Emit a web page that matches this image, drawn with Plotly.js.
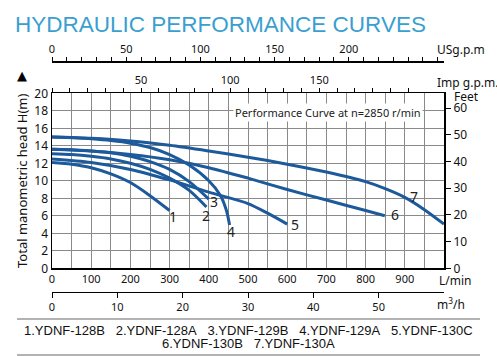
<!DOCTYPE html>
<html><head><meta charset="utf-8">
<script src="https://cdn.plot.ly/plotly-3.0.1.min.js"></script>
<style>html,body{margin:0;padding:0;background:#fff}#c{width:497px;height:356px}</style>
</head><body><div id="c"></div>
<script>
// Flow (L/min) and head (m)
const q1 = [0, 50, 100, 150, 200, 250, 300];
const h1 = [12.1, 11.9, 11.5, 10.8, 9.8, 8.3, 6.6];
const q2 = [0, 50, 100, 150, 200, 250, 300, 350, 394];
const h2 = [13.1, 13.0, 12.8, 12.5, 12.0, 11.3, 10.3, 8.9, 7.0];
const q3 = [0, 50, 100, 150, 200, 250, 300, 350, 400];
const h3 = [13.6, 13.55, 13.4, 13.2, 12.8, 12.2, 11.3, 9.9, 7.9];
const q4 = [0, 50, 100, 150, 200, 250, 300, 350, 400, 430, 445, 453];
const h4 = [15.0, 14.95, 14.8, 14.6, 14.3, 13.8, 13.0, 11.8, 10.0, 8.3, 6.6, 4.95];
const q5 = [0, 100, 200, 300, 400, 500, 550, 600];
const h5 = [12.5, 12.1, 11.3, 10.1, 8.7, 7.4, 6.3, 5.05];
const q6 = [0, 100, 200, 300, 400, 500, 600, 700, 800, 849];
const h6 = [13.6, 13.4, 13.0, 12.4, 11.5, 10.3, 9.0, 7.8, 6.6, 6.0];
const q7 = [0, 100, 200, 300, 400, 500, 600, 700, 800, 850, 900, 950, 1000];
const h7 = [15.0, 14.85, 14.55, 14.05, 13.4, 12.7, 11.9, 11.0, 9.9, 9.1, 8.1, 6.7, 5.05];
const curveNames = ['1', '2', '3', '4', '5', '6', '7'];
const models = ['1.YDNF-128B', '2.YDNF-128A', '3.YDNF-129B', '4.YDNF-129A', '5.YDNF-130C', '6.YDNF-130B', '7.YDNF-130A'];
const lpmTicks = [0, 100, 200, 300, 400, 500, 600, 700, 800, 900];
const headTicks = [0, 2, 4, 6, 8, 10, 12, 14, 16, 18, 20];
const feetTicks = [0, 10, 20, 30, 40, 50, 60];
const usgpmLabels = [0, 50, 100, 150, 200];
const impLabels = [50, 100, 150];
const m3hTicks = [0, 10, 20, 30, 40, 50];

const QMAX = 1000, HMAX = 20;
const FT = 3.28084, USG = 3.78541, IMP = 4.54609;
const blue = '#1d5a9b';
const F = 'Noto Sans, DejaVu Sans, sans-serif';

const Q = [q1, q2, q3, q4, q5, q6, q7], H = [h1, h2, h3, h4, h5, h6, h7];
const traces = Q.map((q, i) => ({
  x: q, y: H[i], type: 'scatter', mode: 'lines', name: curveNames[i],
  line: {color: blue, width: 3, shape: 'spline', smoothing: 0.8}, hoverinfo: 'skip'
}));
traces.push({x: [0], y: [0], xaxis: 'x2', yaxis: 'y2', mode: 'markers', marker: {opacity: 0}, hoverinfo: 'skip'});
traces.push({x: [0], y: [0], xaxis: 'x3', yaxis: 'y', mode: 'markers', marker: {opacity: 0}, hoverinfo: 'skip'});
traces.push({x: [0], y: [0], xaxis: 'x4', yaxis: 'y', mode: 'markers', marker: {opacity: 0}, hoverinfo: 'skip'});
traces.push({x: [0], y: [0], xaxis: 'x5', yaxis: 'y', mode: 'markers', marker: {opacity: 0}, hoverinfo: 'skip'});

const usTicks = [], usText = [];
for (let v = 0; v <= 260; v += 10) { usTicks.push(v); usText.push(usgpmLabels.includes(v) ? String(v) : ''); }
const impTicks = [], impText = [];
for (let v = 0; v <= 200; v += 10) { impTicks.push(v); impText.push(impLabels.includes(v) ? String(v) : ''); }

const pt = 40, pb = 300, ph = pb - pt;
const py = (px) => (pb - px) / ph;
const pxX = (px) => (px - 52) / 392;

const labelPos = [[308, 5.95], [392, 6.0], [412, 7.6], [456, 4.2], [619, 5.0], [874, 6.1], [923, 8.2]];
const annotations = curveNames.map((n, i) => ({
  x: labelPos[i][0], y: labelPos[i][1], xref: 'x', yref: 'y', text: n, showarrow: false,
  xanchor: 'center', yanchor: 'middle', font: {family: F, size: 14, color: '#222'}
}));
const pa = (x, y, text, anchor, font) => ({x: pxX(x), y: py(y), xref: 'paper', yref: 'paper', xanchor: anchor,
  yanchor: 'middle', text: text, showarrow: false, font: font});
const small = {family: F, size: 12, color: '#111'};
const legFont = {family: 'Liberation Sans, Arial', size: 13, color: '#111'};
const sep = '&nbsp;&nbsp;&nbsp;';
annotations.push(
  {x: 703, y: 17.86, xref: 'x', yref: 'y', xanchor: 'center', yanchor: 'middle', text: 'Performance Curve at n=2850 r/min',
   showarrow: false, bgcolor: '#fff', borderpad: 1, font: {family: F, size: 11, color: '#222'}},
  pa(435, 49, 'USg.p.m', 'left', small),
  pa(435, 82, 'Imp g.p.m.', 'left', small),
  pa(452, 96, 'Feet', 'left', small),
  pa(437, 280, 'L/min', 'left', small),
  pa(435, 304, 'm<sup>3</sup>/h', 'left', small),
  pa(22, 75, '▲', 'center', {family: 'DejaVu Sans', size: 13, color: '#000'}),
  pa(248, 330, models.slice(0, 5).join(sep), 'center', legFont),
  pa(248, 343, models.slice(5).join(sep), 'center', legFont)
);

const layout = {
  width: 497, height: 356,
  margin: {l: 52, r: 53, t: pt, b: 356 - pb, pad: 0},
  paper_bgcolor: '#fff', plot_bgcolor: '#fff', showlegend: false,
  title: {text: 'HYDRAULIC PERFORMANCE CURVES', x: 15 / 497, xanchor: 'left', xref: 'container',
          y: 1 - 24 / 356, yanchor: 'middle', yref: 'container',
          font: {family: 'Liberation Sans, Arial', size: 22.5, color: '#3a9fd0'}},
  xaxis: {range: [0, QMAX], tickvals: lpmTicks, ticks: '', showgrid: true, gridcolor: '#8a8a8a', gridwidth: 1,
          minor: {dtick: 50, showgrid: true, gridcolor: '#8a8a8a', gridwidth: 1},
          showline: true, linecolor: '#000', linewidth: 1.5, mirror: true, zeroline: false,
          tickfont: {family: F, size: 11, color: '#111'}, domain: [0, 1]},
  yaxis: {range: [0, HMAX], tickvals: headTicks, ticks: '', showgrid: true, gridcolor: '#8a8a8a', gridwidth: 1,
          showline: true, linecolor: '#000', linewidth: 1.5, mirror: true, zeroline: false,
          domain: [py(268.3), py(93.3)],
          title: {text: 'Total manometric head H(m)', font: {family: F, size: 13, color: '#111'}, standoff: 4},
          tickfont: {family: F, size: 12, color: '#111'}},
  yaxis2: {range: [0, HMAX * FT], overlaying: 'y', side: 'right', tickvals: feetTicks, ticks: 'outside', ticklen: 6,
           tickcolor: '#000', showgrid: false, zeroline: false, showline: false,
           tickfont: {family: F, size: 12, color: '#111'}},
  xaxis2: {range: [0, QMAX], overlaying: 'x', showticklabels: false, showgrid: false, zeroline: false},
  xaxis3: {range: [0, QMAX / IMP], overlaying: 'x', side: 'top', anchor: 'y', tickvals: impTicks, ticktext: impText,
           ticks: 'outside', ticklen: 4, tickcolor: '#000', showgrid: false, zeroline: false, showline: false,
           tickfont: {family: F, size: 11, color: '#111'}},
  xaxis4: {range: [0, QMAX / USG], overlaying: 'x', side: 'top', anchor: 'free', position: py(61),
           tickvals: usTicks, ticktext: usText, ticks: 'outside', ticklen: 4, tickcolor: '#000',
           showline: true, linecolor: '#000', linewidth: 1.5, showgrid: false, zeroline: false,
           tickfont: {family: F, size: 11, color: '#111'}},
  xaxis5: {range: [0, QMAX * 60 / 1000], overlaying: 'x', side: 'bottom', anchor: 'free', position: py(291.7),
           tickvals: m3hTicks, ticks: 'outside', ticklen: 5, tickcolor: '#000',
           showline: true, linecolor: '#000', linewidth: 1.5, showgrid: false, zeroline: false,
           tickfont: {family: F, size: 11, color: '#111'}},
  shapes: [
    {type: 'line', xref: 'paper', yref: 'paper', x0: pxX(17), x1: pxX(480), y0: py(319), y1: py(319), line: {color: '#666', width: 1}},
    {type: 'line', xref: 'paper', yref: 'paper', x0: pxX(17), x1: pxX(480), y0: py(355), y1: py(355), line: {color: '#666', width: 1}}
  ],
  annotations: annotations
};
Plotly.newPlot('c', traces, layout, {displayModeBar: false, staticPlot: true});
</script></body></html>
